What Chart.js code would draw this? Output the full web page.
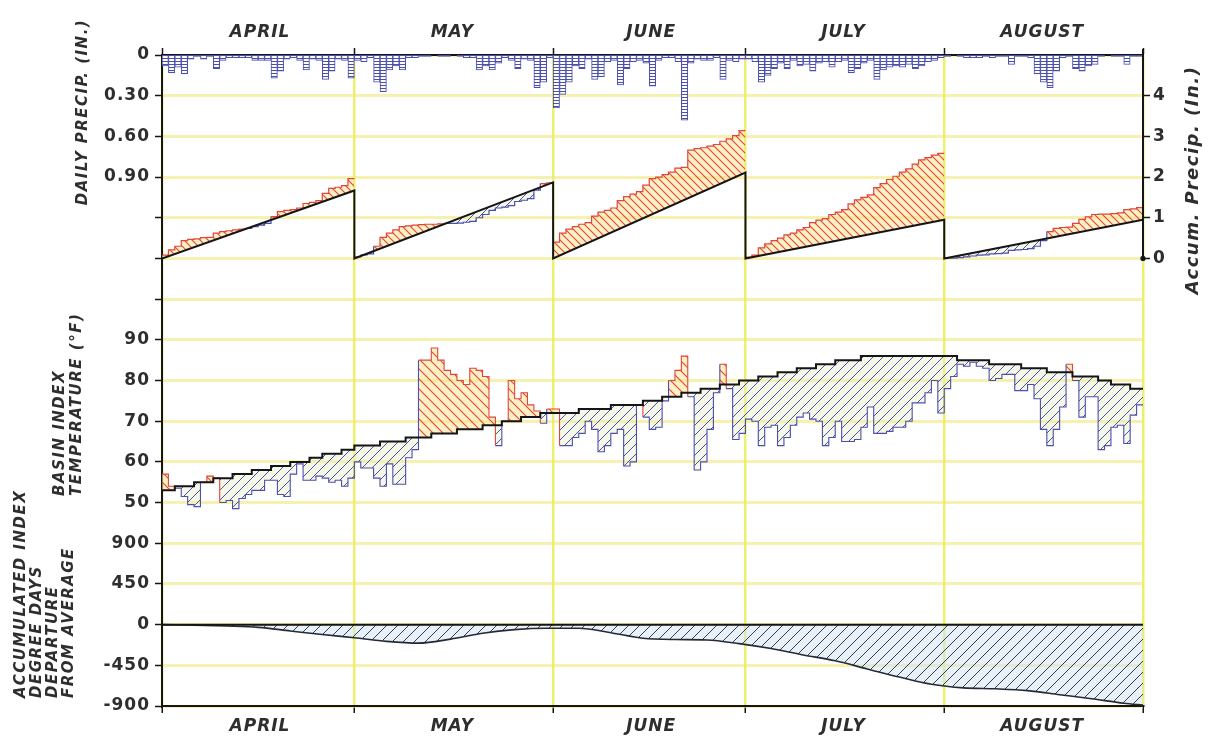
<!DOCTYPE html>
<html>
<head>
<meta charset="utf-8">
<title>Basin index: precipitation, temperature and degree days, April to August</title>
<script src="https://cdn.jsdelivr.net/npm/chart.js@4.4.1/dist/chart.umd.min.js"></script>
<style>
  html, body { margin: 0; padding: 0; background: #ffffff; }
  canvas { display: block; }
</style>
</head>
<body>
<canvas id="chart" width="1208" height="740"></canvas>
<script>
// ---------------- data ----------------
const months = ['APRIL', 'MAY', 'JUNE', 'JULY', 'AUGUST'];
const monthDays = [30, 31, 30, 31, 31];

// left axis labels, one per grid row from top to bottom
const leftTickLabels = ['0', '0.30', '0.60', '0.90', '', '', '', '90', '80', '70', '60', '50', '900', '450', '0', '-450', '-900'];
const accumTickValues = [0, 1, 2, 3, 4];

// daily precipitation (in.), one value per day, April 1 .. August 31
const dailyPrecip = [
  // April
  0.08, 0.13, 0.09, 0.14, 0.03, 0.01, 0.03, 0.01, 0.10, 0.04, 0.02, 0.02, 0.02, 0.02, 0.04,
  0.04, 0.04, 0.17, 0.12, 0.03, 0.02, 0.04, 0.11, 0.03, 0.04, 0.18, 0.12, 0.03, 0.04, 0.17,
  // May
  0.04, 0.05, 0.02, 0.20, 0.27, 0.11, 0.08, 0.11, 0.02, 0.02, 0.01, 0.01, 0.00, 0.01, 0.01,
  0.00, 0.01, 0.02, 0.02, 0.11, 0.08, 0.11, 0.06, 0.02, 0.04, 0.10, 0.03, 0.04, 0.24, 0.20, 0.02,
  // June
  0.39, 0.29, 0.20, 0.08, 0.10, 0.03, 0.18, 0.16, 0.05, 0.04, 0.22, 0.10, 0.05, 0.04, 0.06,
  0.23, 0.04, 0.02, 0.02, 0.05, 0.48, 0.06, 0.03, 0.04, 0.04, 0.02, 0.18, 0.04, 0.05, 0.03,
  // July
  0.03, 0.05, 0.20, 0.15, 0.10, 0.06, 0.10, 0.04, 0.08, 0.07, 0.12, 0.06, 0.05, 0.09, 0.05,
  0.04, 0.13, 0.10, 0.06, 0.04, 0.18, 0.11, 0.09, 0.08, 0.09, 0.07, 0.10, 0.08, 0.05, 0.04, 0.02,
  // August
  0.01, 0.00, 0.01, 0.02, 0.02, 0.02, 0.01, 0.02, 0.01, 0.01, 0.07, 0.01, 0.01, 0.02, 0.14,
  0.20, 0.24, 0.12, 0.02, 0.01, 0.10, 0.12, 0.08, 0.07, 0.01, 0.00, 0.01, 0.01, 0.07, 0.01, 0.01
];

// accumulated precipitation within each month (in.), end of each day
const accumPrecipApril = [0.08, 0.21, 0.30, 0.44, 0.47, 0.48, 0.51, 0.52, 0.62, 0.66, 0.68, 0.70, 0.72, 0.74, 0.78,
  0.82, 0.86, 1.03, 1.15, 1.18, 1.20, 1.24, 1.35, 1.38, 1.42, 1.60, 1.72, 1.75, 1.79, 1.96];
const accumPrecipMay = [0.04, 0.09, 0.11, 0.30, 0.52, 0.62, 0.70, 0.78, 0.80, 0.82, 0.83, 0.84, 0.84, 0.85, 0.86,
  0.86, 0.87, 0.89, 0.91, 1.00, 1.08, 1.18, 1.24, 1.26, 1.30, 1.40, 1.43, 1.47, 1.68, 1.84, 1.86];
const accumPrecipJune = [0.40, 0.62, 0.72, 0.78, 0.84, 0.88, 1.04, 1.14, 1.18, 1.24, 1.42, 1.52, 1.58, 1.64, 1.80,
  1.96, 2.00, 2.06, 2.12, 2.22, 2.24, 2.66, 2.70, 2.72, 2.76, 2.80, 2.88, 2.94, 3.02, 3.14];
const accumPrecipJuly = [0.03, 0.08, 0.26, 0.36, 0.44, 0.50, 0.58, 0.62, 0.70, 0.76, 0.88, 0.94, 0.98, 1.08, 1.14,
  1.20, 1.34, 1.44, 1.50, 1.56, 1.74, 1.84, 1.94, 2.02, 2.12, 2.20, 2.32, 2.42, 2.48, 2.54, 2.58];
const accumPrecipAugust = [0.01, 0.01, 0.02, 0.04, 0.06, 0.08, 0.09, 0.11, 0.12, 0.13, 0.20, 0.21, 0.22, 0.24, 0.30,
  0.44, 0.66, 0.74, 0.76, 0.77, 0.86, 0.96, 1.02, 1.08, 1.09, 1.09, 1.10, 1.12, 1.20, 1.22, 1.25];

// normal monthly precipitation totals (in.)
const normalAccumPrecip = [1.67, 1.87, 2.11, 0.95, 0.95];

// basin index temperature (°F), daily
const tempActual = [
  // April
  57, 54, 53.5, 51.5, 49.5, 49, 55, 56.5, 56, 50, 50.5, 48.5, 51, 52, 53,
  53, 55.5, 55.5, 52, 51.5, 57, 59.5, 55.5, 55.5, 56.5, 56, 55, 55.5, 54, 56,
  // May
  60, 58.5, 58.5, 56, 54, 59.5, 54.5, 54.5, 61, 63, 85, 85, 88, 85, 82.5,
  81.5, 80, 79, 83, 82.5, 81, 71, 64, 70, 80, 75.5, 77, 74, 72.5, 69.5, 73,
  // June
  73, 64, 64, 66, 67, 70, 68, 62.5, 64, 67, 68, 59, 60, 74, 71,
  68, 68.5, 75, 80, 82.5, 86, 76, 58, 60, 68, 77, 84, 78, 65.5, 67,
  // July
  70.5, 70, 64, 68.5, 69, 64, 66, 69, 71, 72, 70.5, 70, 64, 66, 70,
  65, 65, 65.5, 68.5, 73.5, 67, 67, 67.5, 68.5, 68.5, 70, 74.5, 74.5, 77, 80, 72,
  // August
  78, 81, 84, 83.5, 84.5, 83.5, 83, 80, 80.5, 81.5, 81.5, 77.5, 77.5, 79, 75.5,
  68, 64, 68, 73.5, 84, 80, 71, 76, 76, 63, 64, 68.5, 69, 64.5, 71.5, 74
];
const tempNormal = [
  // April
  53, 53, 54, 54, 54, 55, 55, 55, 56, 56, 56, 57, 57, 57, 58,
  58, 58, 59, 59, 59, 60, 60, 60, 61, 61, 62, 62, 62, 63, 63,
  // May
  64, 64, 64, 64, 65, 65, 65, 65, 66, 66, 66, 66, 67, 67, 67,
  67, 68, 68, 68, 68, 69, 69, 69, 70, 70, 70, 71, 71, 71, 72, 72,
  // June
  72, 72, 72, 72, 73, 73, 73, 73, 73, 74, 74, 74, 74, 74, 75,
  75, 75, 76, 76, 76, 77, 77, 77, 78, 78, 78, 79, 79, 79, 80,
  // July
  80, 80, 81, 81, 81, 82, 82, 82, 83, 83, 83, 84, 84, 84, 85,
  85, 85, 85, 86, 86, 86, 86, 86, 86, 86, 86, 86, 86, 86, 86, 86,
  // August
  86, 86, 85, 85, 85, 85, 85, 84, 84, 84, 84, 84, 83, 83, 83,
  83, 82, 82, 82, 82, 81, 81, 81, 81, 80, 80, 79, 79, 79, 78, 78
];

// accumulated index degree days, departure from average
const degreeDayDays = [0, 5, 10, 15, 20, 25, 30, 35, 40, 45, 50, 55, 60, 65, 70, 75,
  80, 85, 90, 95, 100, 105, 110, 115, 120, 125, 130, 135, 140, 145, 150, 153];
const degreeDayDeparture = [0, -5, -15, -30, -70, -110, -145, -185, -205, -160, -95, -55, -40, -40, -90, -150,
  -165, -170, -210, -265, -335, -400, -490, -580, -660, -700, -710, -730, -775, -820, -870, -890];

// axis titles
const precipTitle = ['DAILY PRECIP. (IN.)'];
const tempTitle = ['BASIN INDEX', 'TEMPERATURE (°F)'];
const degreeDayTitle = ['ACCUMULATED INDEX', 'DEGREE DAYS', 'DEPARTURE', 'FROM AVERAGE'];
const accumTitle = 'Accum. Precip. (In.)';

// ---------------- styling ----------------
const RED = '#e0463b';
const BLUE = '#4b4fae';
const INK = '#151515';
const TEXT = '#2e2e2e';
const GRID_H = 'rgba(240, 232, 120, 0.6)';
const GRID_V = 'rgba(232, 236, 70, 0.8)';
const FONT = 'DejaVu Sans';

function hatch(color, bg, dir, gap, lw) {
  const c = document.createElement('canvas');
  c.width = gap; c.height = gap;
  const g = c.getContext('2d');
  if (bg) { g.fillStyle = bg; g.fillRect(0, 0, gap, gap); }
  g.strokeStyle = color; g.lineWidth = lw;
  g.beginPath();
  if (dir === '/') {
    g.moveTo(0, gap); g.lineTo(gap, 0);
    g.moveTo(-1, 1); g.lineTo(1, -1);
    g.moveTo(gap - 1, gap + 1); g.lineTo(gap + 1, gap - 1);
  } else if (dir === '\\') {
    g.moveTo(0, 0); g.lineTo(gap, gap);
    g.moveTo(-1, gap - 1); g.lineTo(1, gap + 1);
    g.moveTo(gap - 1, -1); g.lineTo(gap + 1, 1);
  } else {
    g.moveTo(0, gap / 2); g.lineTo(gap, gap / 2);
  }
  g.stroke();
  return g.createPattern(c, 'repeat');
}
const ctx0 = document.getElementById('chart').getContext('2d');
const redHatch = hatch(RED, 'rgba(252, 228, 150, 0.55)', '\\', 10, 1.1);
const blueHatch = hatch(BLUE, 'rgba(232, 238, 195, 0.4)', '/', 10, 1.0);
const precipRedHatch = hatch(RED, 'rgba(252, 228, 150, 0.55)', '\\', 8, 1.1);
const precipBlueHatch = hatch(BLUE, 'rgba(232, 238, 195, 0.4)', '/', 8, 1.0);
const ddHatch = hatch('#343c55', 'rgba(210, 228, 242, 0.5)', '/', 11, 1.0);
const barHatch = hatch(BLUE, 'rgba(255,255,255,0.9)', '-', 3, 1.0);

// ---------------- datasets ----------------
const monthStarts = [];
let running = 0;
monthDays.forEach(n => { monthStarts.push(running); running += n; });
const totalDays = running;
const monthBounds = [...monthStarts, totalDays];
const accumByMonth = [accumPrecipApril, accumPrecipMay, accumPrecipJune, accumPrecipJuly, accumPrecipAugust];

const datasets = [];

// normal accumulated precipitation: black sawtooth
const sawtooth = [];
monthStarts.forEach((s, m) => {
  sawtooth.push({ x: s, y: 0 }, { x: s + monthDays[m], y: normalAccumPrecip[m] });
});
datasets.push({
  type: 'line', data: sawtooth, xAxisID: 'x', yAxisID: 'yAccum',
  borderColor: INK, borderWidth: 2, pointRadius: 0, fill: false, order: 0
});

// normal temperature: black step line
const tempNormalPts = tempNormal.map((v, d) => ({ x: d, y: v }));
tempNormalPts.push({ x: totalDays, y: tempNormal[tempNormal.length - 1] });
const tempNormalIndex = datasets.length;
datasets.push({
  type: 'line', data: tempNormalPts, xAxisID: 'x', yAxisID: 'yTemp', stepped: 'before',
  borderColor: INK, borderWidth: 2, pointRadius: 0, fill: false, order: 0
});

// degree-day zero line
datasets.push({
  type: 'line', data: [{ x: 0, y: 0 }, { x: totalDays, y: 0 }], xAxisID: 'x', yAxisID: 'yDD',
  borderColor: INK, borderWidth: 2, pointRadius: 0, fill: false, order: 0
});

// degree-day departure curve, hatched down to zero
datasets.push({
  type: 'line', data: degreeDayDays.map((d, i) => ({ x: d, y: degreeDayDeparture[i] })),
  xAxisID: 'x', yAxisID: 'yDD', cubicInterpolationMode: 'monotone',
  borderColor: '#242a36', borderWidth: 1.6, pointRadius: 0,
  fill: { target: { value: 0 }, above: ddHatch, below: ddHatch }, order: 1
});

// per-month normal precipitation lines used as fill references
const normalTargets = [];
monthStarts.forEach((s, m) => {
  normalTargets.push(datasets.length);
  datasets.push({
    type: 'line', data: [{ x: s, y: 0 }, { x: s + monthDays[m], y: normalAccumPrecip[m] }],
    xAxisID: 'x', yAxisID: 'yAccum', borderWidth: 0, borderColor: 'rgba(0,0,0,0)',
    pointRadius: 0, fill: false, order: 6
  });
});

// actual accumulated precipitation per month, red above normal, blue below
monthStarts.forEach((s, m) => {
  const vals = accumByMonth[m];
  const n = monthDays[m];
  const pts = vals.map((v, i) => ({ x: s + i, y: v }));
  pts.push({ x: s + n, y: vals[vals.length - 1] });
  datasets.push({
    type: 'line', data: pts, xAxisID: 'x', yAxisID: 'yAccum', stepped: 'before',
    borderWidth: 1.2, pointRadius: 0, order: 2,
    borderColor: RED,
    segment: {
      borderColor: c => {
        const i = Math.min(c.p0DataIndex, vals.length - 1);
        return vals[i] >= normalAccumPrecip[m] * (i + 0.5) / n ? RED : BLUE;
      }
    },
    fill: { target: normalTargets[m], above: precipRedHatch, below: precipBlueHatch }
  });
});

// actual temperature, red above normal, blue below
const tempActualPts = tempActual.map((v, d) => ({ x: d, y: v }));
tempActualPts.push({ x: totalDays, y: tempActual[tempActual.length - 1] });
datasets.push({
  type: 'line', data: tempActualPts, xAxisID: 'x', yAxisID: 'yTemp', stepped: 'before',
  borderWidth: 1.1, pointRadius: 0, order: 2, borderColor: BLUE,
  segment: {
    borderColor: c => {
      const i = Math.min(c.p0DataIndex, tempActual.length - 1);
      return tempActual[i] >= tempNormal[i] ? RED : BLUE;
    }
  },
  fill: { target: tempNormalIndex, above: redHatch, below: blueHatch }
});

// daily precipitation bars hanging from the top line
datasets.push({
  type: 'bar', data: dailyPrecip.map((v, d) => ({ x: d + 0.5, y: v })),
  xAxisID: 'x', yAxisID: 'yPrecip', barPercentage: 1, categoryPercentage: 1, grouped: false,
  backgroundColor: barHatch, borderColor: BLUE, borderWidth: 1, borderSkipped: 'start', order: 3
});

// ---------------- titles & right axis line ----------------
function drawRotated(ctx, text, x, y, align) {
  ctx.save();
  ctx.translate(x, y);
  ctx.rotate(-Math.PI / 2);
  ctx.textAlign = align;
  ctx.textBaseline = 'middle';
  ctx.fillText(text, 0, 0);
  ctx.restore();
}

const sidePlugin = {
  id: 'sideTitles',
  beforeDraw(chart) { chart.ctx.letterSpacing = '1px'; },
  beforeDatasetsDraw(chart) { chart.ctx.letterSpacing = '0px'; },
  afterDraw(chart) {
    const ctx = chart.ctx;
    const area = chart.chartArea;
    const yA = chart.scales.yAccum;
    ctx.save();
    // right-hand accumulated precipitation axis line
    const y0 = yA.getPixelForValue(0);
    ctx.strokeStyle = INK; ctx.lineWidth = 2;
    ctx.beginPath(); ctx.moveTo(area.right, area.top - 6); ctx.lineTo(area.right, y0); ctx.stroke();
    ctx.fillStyle = INK;
    ctx.beginPath(); ctx.arc(area.right, y0, 2.6, 0, Math.PI * 2); ctx.fill();

    ctx.fillStyle = TEXT;
    ctx.letterSpacing = '1.5px';
    ctx.font = `italic bold 15px "${FONT}"`;
    drawRotated(ctx, precipTitle[0], 83, 112, 'center');
    drawRotated(ctx, tempTitle[0], 60, 496, 'left');
    drawRotated(ctx, tempTitle[1], 77, 496, 'left');
    const ddX = [21, 37, 53, 69];
    degreeDayTitle.forEach((t, i) => drawRotated(ctx, t, ddX[i], 698, 'left'));
    ctx.font = `italic bold 18px "${FONT}"`;
    ctx.letterSpacing = '1.5px';
    drawRotated(ctx, accumTitle, 1193, 180, 'center');
    ctx.restore();
  }
};

// ---------------- chart ----------------
const monthLabel = (v, i) => (i < months.length ? months[i] : '');
const monthTicks = s => { s.ticks = monthBounds.map(v => ({ value: v })); };
const monthFont = { family: FONT, size: 17, style: 'italic', weight: 'bold' };
const numberFont = { family: FONT, size: 17, weight: 'bold' };

new Chart(ctx0, {
  type: 'line',
  data: { datasets },
  plugins: [sidePlugin],
  options: {
    responsive: false,
    animation: false,
    events: [],
    layout: { padding: 0 },
    plugins: { legend: { display: false }, tooltip: { enabled: false } },
    elements: { point: { radius: 0 } },
    scales: {
      x: {
        type: 'linear', position: 'bottom', min: 0, max: totalDays, offset: false,
        afterBuildTicks: monthTicks,
        afterFit: s => { s.height = 34; },
        ticks: {
          callback: monthLabel, autoSkip: false, maxRotation: 0, labelOffset: 98, padding: 3,
          color: TEXT, font: monthFont
        },
        grid: {
          offset: false, color: GRID_V, lineWidth: 2.5,
          tickColor: INK, tickLength: 7, tickWidth: 1.5
        },
        border: { display: true, color: INK, width: 2 }
      },
      xTop: {
        type: 'linear', position: 'top', min: 0, max: totalDays, offset: false,
        afterBuildTicks: monthTicks,
        afterFit: s => { s.height = 55; },
        ticks: {
          callback: monthLabel, autoSkip: false, maxRotation: 0, labelOffset: 98, padding: 5,
          color: TEXT, font: monthFont
        },
        grid: { drawOnChartArea: false, tickColor: INK, tickLength: 7, tickWidth: 1.5 },
        border: { display: true, color: INK, width: 2 }
      },
      yGrid: {
        type: 'linear', position: 'left', min: 0, max: leftTickLabels.length - 1, reverse: true,
        afterBuildTicks: s => { s.ticks = leftTickLabels.map((_, i) => ({ value: i })); },
        afterFit: s => { s.width = 162; },
        ticks: {
          callback: (v, i) => leftTickLabels[i], autoSkip: false, padding: 5,
          color: TEXT, font: numberFont
        },
        grid: { color: GRID_H, lineWidth: 3, tickColor: INK, tickLength: 7, tickWidth: 1.5 },
        border: { display: true, color: INK, width: 2 }
      },
      yAccum: {
        type: 'linear', position: 'right', min: -11, max: 5,
        afterBuildTicks: s => { s.ticks = accumTickValues.map(v => ({ value: v })); },
        afterFit: s => { s.width = 65; },
        ticks: { autoSkip: false, padding: 3, color: TEXT, font: numberFont },
        grid: { drawOnChartArea: false, tickColor: INK, tickLength: 7, tickWidth: 1.5 },
        border: { display: false }
      },
      yPrecip: { type: 'linear', display: false, min: 0, max: 4.8, reverse: true },
      yTemp: { type: 'linear', display: false, min: 0, max: 160 },
      yDD: { type: 'linear', display: false, min: -900, max: 6300 }
    }
  }
});
</script>
</body>
</html>
